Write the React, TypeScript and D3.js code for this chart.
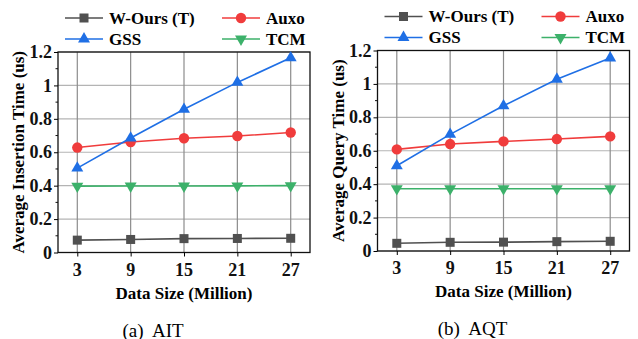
import { useEffect, useRef } from "react"
import * as d3 from "d3"

const sizes = [3, 9, 15, 21, 27]
const yTicks = [0, 0.2, 0.4, 0.6, 0.8, 1, 1.2]

const seriesNames = ["W-Ours (T)", "Auxo", "GSS", "TCM"]
const seriesColors = ["#505050", "#f03c3c", "#1f6fe5", "#3cb16a"]
const seriesShapes = ["square", "circle", "triangle", "triangleDown"]

// (a) AIT
const aitOurs = [0.074, 0.078, 0.083, 0.084, 0.085]
const aitAuxo = [0.628, 0.661, 0.684, 0.697, 0.718]
const aitGss = [0.505, 0.685, 0.857, 1.018, 1.165]
const aitTcm = [0.397, 0.398, 0.398, 0.399, 0.4]

// (b) AQT
const aqtOurs = [0.046, 0.052, 0.053, 0.056, 0.058]
const aqtAuxo = [0.608, 0.64, 0.656, 0.67, 0.686]
const aqtGss = [0.51, 0.698, 0.869, 1.028, 1.155]
const aqtTcm = [0.373, 0.373, 0.373, 0.373, 0.373]

const font = "Liberation Serif"

function drawMarker(g: any, shape: string, x: number, y: number, color: string) {
  if (shape === "square") {
    g.append("rect").attr("x", x - 4.5).attr("y", y - 4.5).attr("width", 9).attr("height", 9).attr("fill", color)
  } else if (shape === "circle") {
    g.append("circle").attr("cx", x).attr("cy", y).attr("r", 5.2).attr("fill", color)
  } else {
    const rot = shape === "triangle" ? 0 : 180
    g.append("path")
      .attr("d", d3.symbol().type(d3.symbolTriangle).size(62)())
      .attr("transform", `translate(${x},${y}) rotate(${rot})`)
      .attr("fill", color)
  }
}

function Panel({ series, yLabel, caption, left, top }: any) {
  const ref = useRef<SVGGElement>(null)

  useEffect(() => {
    if (!ref.current) return
    const g = d3.select(ref.current)
    g.selectAll("*").remove()

    const width = 252
    const height = 200.5

    const x = d3.scaleLinear().domain([0.83, 29.17]).range([0, width])
    const y = d3.scaleLinear().domain([0, 1.2]).range([height, 0])

    const p = g.append("g").attr("transform", `translate(${left},${top})`)

    // grid
    p.append("g")
      .selectAll("line")
      .data(yTicks)
      .join("line")
      .attr("x1", 0)
      .attr("x2", width)
      .attr("y1", (d) => y(d))
      .attr("y2", (d) => y(d))
      .attr("stroke", "#b4b4b4")
      .attr("stroke-width", 1.2)
    p.append("g")
      .selectAll("line")
      .data(sizes)
      .join("line")
      .attr("x1", (d) => x(d))
      .attr("x2", (d) => x(d))
      .attr("y1", 0)
      .attr("y2", height)
      .attr("stroke", "#8c8c8c")
      .attr("stroke-width", 1.2)

    // frame
    p.append("rect")
      .attr("width", width)
      .attr("height", height)
      .attr("fill", "none")
      .attr("stroke", "#111")
      .attr("stroke-width", 1.3)

    // y axis ticks + labels
    const yAxis = p.append("g").call(d3.axisLeft(y).tickValues(yTicks).tickSize(4).tickFormat(() => ""))
    yAxis.select(".domain").remove()
    p.append("g")
      .selectAll("line")
      .data(d3.range(0.1, 1.2, 0.2))
      .join("line")
      .attr("x1", -2.5)
      .attr("x2", 0)
      .attr("y1", (d) => y(d))
      .attr("y2", (d) => y(d))
      .attr("stroke", "#111")
    p.append("g")
      .selectAll("text")
      .data(yTicks)
      .join("text")
      .attr("x", -6)
      .attr("y", (d) => y(d))
      .attr("dy", "0.34em")
      .attr("text-anchor", "end")
      .attr("font-family", font)
      .attr("font-weight", "bold")
      .attr("font-size", 18)
      .attr("fill", "#111")
      .text((d) => (d === 0 || d === 1 ? String(d) : d3.format(".1f")(d)))

    // x axis ticks + labels
    const xAxis = p.append("g").attr("transform", `translate(0,${height})`).call(d3.axisBottom(x).tickValues(sizes).tickSize(4).tickFormat(() => ""))
    xAxis.select(".domain").remove()
    p.append("g")
      .selectAll("text")
      .data(sizes)
      .join("text")
      .attr("x", (d) => x(d))
      .attr("y", height + 23)
      .attr("text-anchor", "middle")
      .attr("font-family", font)
      .attr("font-weight", "bold")
      .attr("font-size", 18)
      .attr("fill", "#111")
      .text((d) => String(d))

    // titles
    p.append("text")
      .attr("x", width / 2)
      .attr("y", height + 46)
      .attr("text-anchor", "middle")
      .attr("font-family", font)
      .attr("font-weight", "bold")
      .attr("font-size", 17)
      .text("Data Size (Million)")
    p.append("text")
      .attr("transform", `translate(-34,${height / 2}) rotate(-90)`)
      .attr("text-anchor", "middle")
      .attr("font-family", font)
      .attr("font-weight", "bold")
      .attr("font-size", 17)
      .text(yLabel)
    p.append("text")
      .attr("x", width / 2 - 31)
      .attr("y", height + 84)
      .attr("text-anchor", "middle")
      .attr("font-family", font)
      .attr("font-size", 19)
      .style("white-space", "pre")
      .text(caption)

    // series
    const line = d3
      .line<number>()
      .x((_, i) => x(sizes[i]))
      .y((d) => y(d))
    series.forEach((vals: number[], k: number) => {
      p.append("path").attr("d", line(vals)).attr("fill", "none").attr("stroke", seriesColors[k]).attr("stroke-width", 1.6)
      vals.forEach((v, i) => drawMarker(p, seriesShapes[k], x(sizes[i]), y(v), seriesColors[k]))
    })

    // legend
    const lg = g.append("g").attr("transform", `translate(${left + 7},${top - 34})`)
    seriesNames.forEach((name, k) => {
      const lx = (k % 2) * 157
      const ly = Math.floor(k / 2) * 21
      lg.append("line").attr("x1", lx).attr("x2", lx + 38).attr("y1", ly).attr("y2", ly).attr("stroke", seriesColors[k]).attr("stroke-width", 1.6)
      drawMarker(lg, seriesShapes[k], lx + 19, ly, seriesColors[k])
      lg.append("text")
        .attr("x", lx + 44)
        .attr("y", ly)
        .attr("dy", "0.35em")
        .attr("font-family", font)
        .attr("font-weight", "bold")
        .attr("font-size", 17)
        .text(name)
    })
  }, [])

  return <g ref={ref} />
}

export default function App() {
  return (
    <svg width={638} height={339} style={{ position: "absolute", left: 0, top: 0, background: "#fff" }}>
      <Panel series={[aitOurs, aitAuxo, aitGss, aitTcm]} yLabel="Average Insertion Time (us)" caption="(a)  AIT" left={58} top={52} />
      <Panel series={[aqtOurs, aqtAuxo, aqtGss, aqtTcm]} yLabel="Average Query Time (us)" caption="(b)  AQT" left={377.5} top={50.5} />
    </svg>
  )
}
